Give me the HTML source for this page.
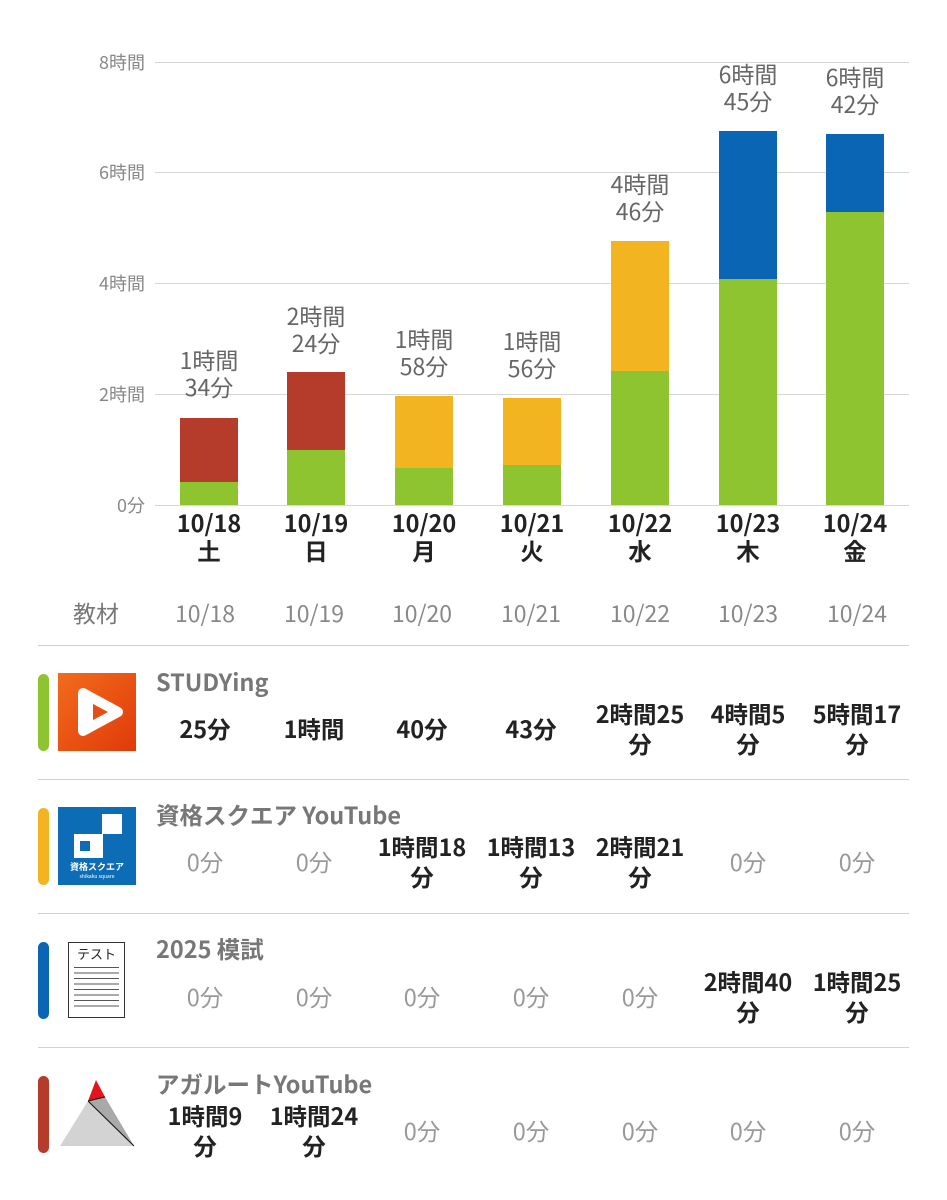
<!DOCTYPE html>
<html><head><meta charset="utf-8"><style>
body{margin:0;width:947px;height:1200px;background:#fff;position:relative;overflow:hidden;font-family:"Noto Sans CJK JP","Liberation Sans",sans-serif}
.a{position:absolute}
.g{position:absolute;left:155px;width:754px;height:1px;background:#d6d6d6}
.yl{position:absolute;right:802px;font-size:18px;color:#888;transform:translateY(-50%)}
.bar{position:absolute;width:58px}
.lab{position:absolute;width:140px;text-align:center;font-size:23px;color:#666;line-height:27px}
.dt{position:absolute;width:140px;text-align:center;font-size:23.5px;font-weight:bold;color:#222;line-height:28px}
.hd{position:absolute;width:140px;text-align:center;font-size:23px;color:#888;transform:translateY(-50%)}
.sep{position:absolute;left:38px;width:871px;height:1px;background:#d0d0d0}
.cb{position:absolute;left:38px;width:11px;border-radius:6px}
.ti{position:absolute;left:156px;font-size:23.5px;font-weight:bold;color:#777;transform:translateY(-50%)}
.v{position:absolute;width:140px;text-align:center;font-size:23.5px;line-height:30px;transform:translateY(-50%)}
.b{font-weight:bold;color:#222}
.z{color:#999}
</style></head><body>
<div class="g" style="top:62px"></div><div class="g" style="top:172px"></div><div class="g" style="top:283px"></div><div class="g" style="top:394px"></div><div class="g" style="top:505px"></div>
<div class="yl" style="top:62px">8時間</div><div class="yl" style="top:172px">6時間</div><div class="yl" style="top:283px">4時間</div><div class="yl" style="top:394px">2時間</div><div class="yl" style="top:505px">0分</div>

<div class="bar" style="left:180px;top:418px;height:64px;background:#b53b2b"></div><div class="bar" style="left:180px;top:482px;height:23px;background:#8fc431"></div>
<div class="bar" style="left:287px;top:372px;height:78px;background:#b53b2b"></div><div class="bar" style="left:287px;top:450px;height:55px;background:#8fc431"></div>
<div class="bar" style="left:395px;top:396px;height:72px;background:#f2b421"></div><div class="bar" style="left:395px;top:468px;height:37px;background:#8fc431"></div>
<div class="bar" style="left:503px;top:398px;height:67px;background:#f2b421"></div><div class="bar" style="left:503px;top:465px;height:40px;background:#8fc431"></div>
<div class="bar" style="left:611px;top:241px;height:130px;background:#f2b421"></div><div class="bar" style="left:611px;top:371px;height:134px;background:#8fc431"></div>
<div class="bar" style="left:719px;top:131px;height:148px;background:#0a66b5"></div><div class="bar" style="left:719px;top:279px;height:226px;background:#8fc431"></div>
<div class="bar" style="left:826px;top:134px;height:78px;background:#0a66b5"></div><div class="bar" style="left:826px;top:212px;height:293px;background:#8fc431"></div>

<div class="lab" style="left:139px;top:346px">1時間<br>34分</div>
<div class="lab" style="left:246px;top:302px">2時間<br>24分</div>
<div class="lab" style="left:354px;top:325px">1時間<br>58分</div>
<div class="lab" style="left:462px;top:327px">1時間<br>56分</div>
<div class="lab" style="left:570px;top:170px">4時間<br>46分</div>
<div class="lab" style="left:678px;top:60px">6時間<br>45分</div>
<div class="lab" style="left:785px;top:63px">6時間<br>42分</div>

<div class="dt" style="left:139px;top:508px">10/18<br>土</div>
<div class="dt" style="left:246px;top:508px">10/19<br>日</div>
<div class="dt" style="left:354px;top:508px">10/20<br>月</div>
<div class="dt" style="left:462px;top:508px">10/21<br>火</div>
<div class="dt" style="left:570px;top:508px">10/22<br>水</div>
<div class="dt" style="left:678px;top:508px">10/23<br>木</div>
<div class="dt" style="left:785px;top:508px">10/24<br>金</div>

<div class="a" style="left:73px;top:612px;font-size:23px;color:#777;transform:translateY(-50%)">教材</div>
<div class="hd" style="left:135px;top:612px">10/18</div><div class="hd" style="left:244px;top:612px">10/19</div><div class="hd" style="left:352px;top:612px">10/20</div><div class="hd" style="left:461px;top:612px">10/21</div><div class="hd" style="left:570px;top:612px">10/22</div><div class="hd" style="left:678px;top:612px">10/23</div><div class="hd" style="left:787px;top:612px">10/24</div>

<div class="sep" style="top:645px"></div><div class="sep" style="top:779px"></div><div class="sep" style="top:913px"></div><div class="sep" style="top:1047px"></div>

<!-- row1 -->
<div class="cb" style="top:674px;height:77px;background:#8fc431"></div>
<div class="a" style="left:58px;top:673px;width:78px;height:78px;background:linear-gradient(135deg,#f26c1c,#e03a0a)">
<svg width="78" height="78"><polygon points="25,20 60,39 25,58" fill="#fff" stroke="#fff" stroke-width="10" stroke-linejoin="round"/><polygon points="35,31 50,39 35,47" fill="#e84e12"/></svg></div>
<div class="ti" style="top:681px">STUDYing</div>
<div class="v b" style="left:135px;top:728px">25分</div>
<div class="v b" style="left:244px;top:728px">1時間</div>
<div class="v b" style="left:352px;top:728px">40分</div>
<div class="v b" style="left:461px;top:728px">43分</div>
<div class="v b" style="left:570px;top:728px">2時間25<br>分</div>
<div class="v b" style="left:678px;top:728px">4時間5<br>分</div>
<div class="v b" style="left:787px;top:728px">5時間17<br>分</div>

<!-- row2 -->
<div class="cb" style="top:808px;height:77px;background:#f2b421"></div>
<div class="a" style="left:58px;top:807px;width:78px;height:78px;background:#0c6cb6">
<svg width="78" height="78"><rect x="44" y="7" width="20" height="20" fill="#fff"/><rect x="37" y="27" width="8" height="8" fill="#fff"/><rect x="16" y="27" width="29" height="24" fill="#fff"/><rect x="22" y="34" width="10" height="10" fill="#0c6cb6"/><text x="39" y="63" font-size="9" fill="#fff" text-anchor="middle" font-weight="bold" font-family="Noto Sans CJK JP">資格スクエア</text><text x="39" y="71" font-size="5" fill="#fff" text-anchor="middle">shikaku square</text></svg></div>
<div class="ti" style="top:814px">資格スクエア YouTube</div>
<div class="v z" style="left:135px;top:861px">0分</div>
<div class="v z" style="left:244px;top:861px">0分</div>
<div class="v b" style="left:352px;top:861px">1時間18<br>分</div>
<div class="v b" style="left:461px;top:861px">1時間13<br>分</div>
<div class="v b" style="left:570px;top:861px">2時間21<br>分</div>
<div class="v z" style="left:678px;top:861px">0分</div>
<div class="v z" style="left:787px;top:861px">0分</div>

<!-- row3 -->
<div class="cb" style="top:942px;height:77px;background:#0a66b5"></div>
<div class="a" style="left:68px;top:942px;width:57px;height:76px;border:1.5px solid #333;box-sizing:border-box;background:#fff">
<div style="font-size:13px;text-align:center;margin-top:2px;color:#222;line-height:18px">テスト</div>
<div style="margin:4px 5px 0;height:40px;background:repeating-linear-gradient(#555 0 1px,transparent 1px 5.5px)"></div></div>
<div class="ti" style="top:948px">2025 模試</div>
<div class="v z" style="left:135px;top:996px">0分</div>
<div class="v z" style="left:244px;top:996px">0分</div>
<div class="v z" style="left:352px;top:996px">0分</div>
<div class="v z" style="left:461px;top:996px">0分</div>
<div class="v z" style="left:570px;top:996px">0分</div>
<div class="v b" style="left:678px;top:996px">2時間40<br>分</div>
<div class="v b" style="left:787px;top:996px">1時間25<br>分</div>

<!-- row4 -->
<div class="cb" style="top:1076px;height:77px;background:#b53b2b"></div>
<svg class="a" style="left:58px;top:1078px" width="80" height="70"><polygon points="2,68 30,23 76,68" fill="#d3d3d3"/><polygon points="30,23 47,19 76,68" fill="#a9a9a9"/><polygon points="30,23 38,2 47,19" fill="#e2141c"/><line x1="30" y1="23" x2="76" y2="68" stroke="#111" stroke-width="1"/><line x1="30" y1="23" x2="47" y2="19" stroke="#111" stroke-width="1"/></svg>
<div class="ti" style="top:1083px">アガルートYouTube</div>
<div class="v b" style="left:135px;top:1130px">1時間9<br>分</div>
<div class="v b" style="left:244px;top:1130px">1時間24<br>分</div>
<div class="v z" style="left:352px;top:1130px">0分</div>
<div class="v z" style="left:461px;top:1130px">0分</div>
<div class="v z" style="left:570px;top:1130px">0分</div>
<div class="v z" style="left:678px;top:1130px">0分</div>
<div class="v z" style="left:787px;top:1130px">0分</div>
</body></html>
